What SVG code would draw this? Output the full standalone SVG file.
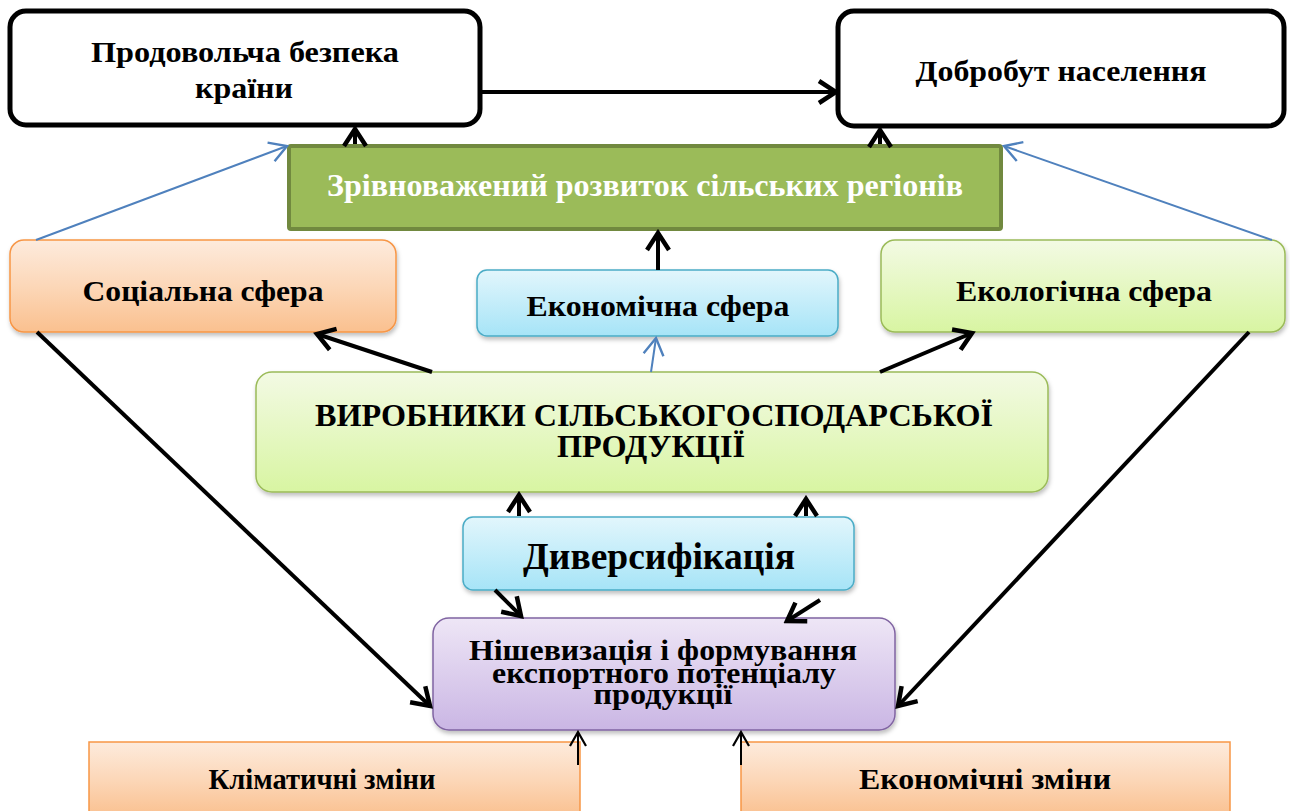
<svg xmlns="http://www.w3.org/2000/svg" width="1290" height="811" viewBox="0 0 1290 811">
<defs>
<style>
text{font-family:"Liberation Serif","Times New Roman",serif;font-weight:bold;fill:#000;text-anchor:middle}
.blk{stroke:#000;stroke-width:5;fill:#fff}
.c{fill:none;stroke:#000;stroke-width:4}
.cb{fill:none;stroke:#4F81BD;stroke-width:2}
.ct{fill:none;stroke:#000;stroke-width:2}
</style>
<linearGradient id="gOr" x1="0" y1="0" x2="0" y2="1"><stop offset="0" stop-color="#FDEBDD"/><stop offset="0.5" stop-color="#FCD7B8"/><stop offset="1" stop-color="#FAC08F"/></linearGradient>
<linearGradient id="gBl" x1="0" y1="0" x2="0" y2="1"><stop offset="0" stop-color="#E2F6FC"/><stop offset="1" stop-color="#A6E4F7"/></linearGradient>
<linearGradient id="gGr" x1="0" y1="0" x2="0" y2="1"><stop offset="0" stop-color="#F3FAE4"/><stop offset="1" stop-color="#D8F5A2"/></linearGradient>
<linearGradient id="gPu" x1="0" y1="0" x2="0" y2="1"><stop offset="0" stop-color="#EEE6F6"/><stop offset="1" stop-color="#CAB6E4"/></linearGradient>
<filter id="sh" x="-5%" y="-10%" width="110%" height="130%"><feDropShadow dx="1" dy="3" stdDeviation="2" flood-color="#000" flood-opacity="0.25"/></filter>
<marker id="ab" viewBox="0 0 24 30" refX="20" refY="15" markerWidth="24" markerHeight="30" markerUnits="userSpaceOnUse" orient="auto"><path d="M3,4 L20,15 L3,26" fill="none" stroke="#000" stroke-width="4.5" stroke-linejoin="miter"/></marker>
<marker id="abt" viewBox="0 0 18 20" refX="16" refY="10" markerWidth="18" markerHeight="20" markerUnits="userSpaceOnUse" orient="auto"><path d="M2,2 L16,10 L2,18" fill="none" stroke="#000" stroke-width="2.2"/></marker>
<marker id="au" viewBox="0 0 22 26" refX="19" refY="13" markerWidth="22" markerHeight="26" markerUnits="userSpaceOnUse" orient="auto"><path d="M2,3 L19,13 L2,23" fill="none" stroke="#4F81BD" stroke-width="2.4"/></marker>
</defs>
<rect width="1290" height="811" fill="#fff"/>

<g id="food-security">
<rect class="blk" x="10" y="11" width="470" height="114" rx="16"/>
<text x="245" y="62" font-size="29" textLength="308" lengthAdjust="spacingAndGlyphs">Продовольча безпека</text>
<text x="244" y="98" font-size="29" textLength="98" lengthAdjust="spacingAndGlyphs">країни</text>
</g>

<g id="welfare">
<rect class="blk" x="838" y="11" width="446" height="115" rx="16"/>
<text x="1061" y="81" font-size="29" textLength="291" lengthAdjust="spacingAndGlyphs">Добробут населення</text>
</g>

<g id="balanced-development">
<rect x="289" y="146" width="712" height="83" fill="#9BBB59" stroke="#71893F" stroke-width="4" rx="2"/>
<text x="645" y="196" font-size="31" style="fill:#fff" textLength="636" lengthAdjust="spacingAndGlyphs">Зрівноважений розвиток сільських регіонів</text>
</g>

<g id="social">
<rect x="10" y="240" width="386" height="92" rx="14" fill="url(#gOr)" stroke="#F79646" stroke-width="1.5" filter="url(#sh)"/>
<text x="203" y="301" font-size="29" textLength="241" lengthAdjust="spacingAndGlyphs">Соціальна сфера</text>
</g>

<g id="economic">
<rect x="477" y="270" width="361" height="66" rx="10" fill="url(#gBl)" stroke="#4BACC6" stroke-width="1.5" filter="url(#sh)"/>
<text x="658" y="316" font-size="29" textLength="263" lengthAdjust="spacingAndGlyphs">Економічна сфера</text>
</g>

<g id="ecological">
<rect x="881" y="240" width="404" height="92" rx="14" fill="url(#gGr)" stroke="#9BBB59" stroke-width="1.5" filter="url(#sh)"/>
<text x="1084" y="301" font-size="29" textLength="256" lengthAdjust="spacingAndGlyphs">Екологічна сфера</text>
</g>

<g id="producers">
<rect x="256" y="372" width="792" height="120" rx="16" fill="url(#gGr)" stroke="#9BBB59" stroke-width="1.5" filter="url(#sh)"/>
<text x="654" y="426" font-size="32" textLength="678" lengthAdjust="spacingAndGlyphs">ВИРОБНИКИ СІЛЬСЬКОГОСПОДАРСЬКОЇ</text>
<text x="651" y="457" font-size="32" textLength="188" lengthAdjust="spacingAndGlyphs">ПРОДУКЦІЇ</text>
</g>

<g id="diversification">
<rect x="463" y="517" width="391" height="73" rx="10" fill="url(#gBl)" stroke="#4BACC6" stroke-width="1.5" filter="url(#sh)"/>
<text x="659" y="569" font-size="37" textLength="272" lengthAdjust="spacingAndGlyphs">Диверсифікація</text>
</g>

<g id="niche">
<rect x="433" y="618" width="462" height="112" rx="16" fill="url(#gPu)" stroke="#8064A2" stroke-width="1.5" filter="url(#sh)"/>
<text x="663" y="660" font-size="29" textLength="388" lengthAdjust="spacingAndGlyphs">Нішевизація і формування</text>
<text x="664" y="683" font-size="29" textLength="344" lengthAdjust="spacingAndGlyphs">експортного потенціалу</text>
<text x="663" y="704" font-size="29" textLength="139" lengthAdjust="spacingAndGlyphs">продукції</text>
</g>

<g id="climate">
<rect x="89" y="742" width="491" height="75" fill="url(#gOr)" stroke="#F79646" stroke-width="1.5"/>
<text x="322" y="789" font-size="30" textLength="227" lengthAdjust="spacingAndGlyphs">Кліматичні зміни</text>
</g>

<g id="economic-changes">
<rect x="741" y="742" width="489" height="75" fill="url(#gOr)" stroke="#F79646" stroke-width="1.5"/>
<text x="985" y="789" font-size="30" textLength="252" lengthAdjust="spacingAndGlyphs">Економічні зміни</text>
</g>

<g id="connectors">
<line class="c" x1="482" y1="92" x2="836" y2="92" stroke-width="5" marker-end="url(#ab)"/>
<line class="c" x1="355" y1="144" x2="355" y2="129" marker-end="url(#ab)"/>
<line class="c" x1="880" y1="144" x2="880" y2="130" marker-end="url(#ab)"/>
<line class="c" x1="658" y1="270" x2="658" y2="233" marker-end="url(#ab)"/>
<line class="cb" x1="36" y1="240" x2="287" y2="146" marker-end="url(#au)"/>
<line class="cb" x1="1272" y1="240" x2="1004" y2="146" marker-end="url(#au)"/>
<line class="cb" x1="651" y1="372" x2="656" y2="338" marker-end="url(#au)"/>
<line class="c" x1="432" y1="372" x2="317" y2="334" marker-end="url(#ab)"/>
<line class="c" x1="880" y1="372" x2="972" y2="333" marker-end="url(#ab)"/>
<line class="c" x1="37" y1="332" x2="430" y2="706" marker-end="url(#ab)"/>
<line class="c" x1="1249" y1="332" x2="898" y2="706" marker-end="url(#ab)"/>
<line class="c" x1="519" y1="516" x2="519" y2="495" marker-end="url(#ab)"/>
<line class="c" x1="806" y1="516" x2="806" y2="499" marker-end="url(#ab)"/>
<line class="c" x1="495" y1="590" x2="521" y2="616" marker-end="url(#ab)"/>
<line class="c" x1="820" y1="600" x2="787" y2="621" marker-end="url(#ab)"/>
<line class="ct" x1="578" y1="765" x2="578" y2="732" marker-end="url(#abt)"/>
<line class="ct" x1="741" y1="765" x2="741" y2="732" marker-end="url(#abt)"/>
</g>
</svg>
